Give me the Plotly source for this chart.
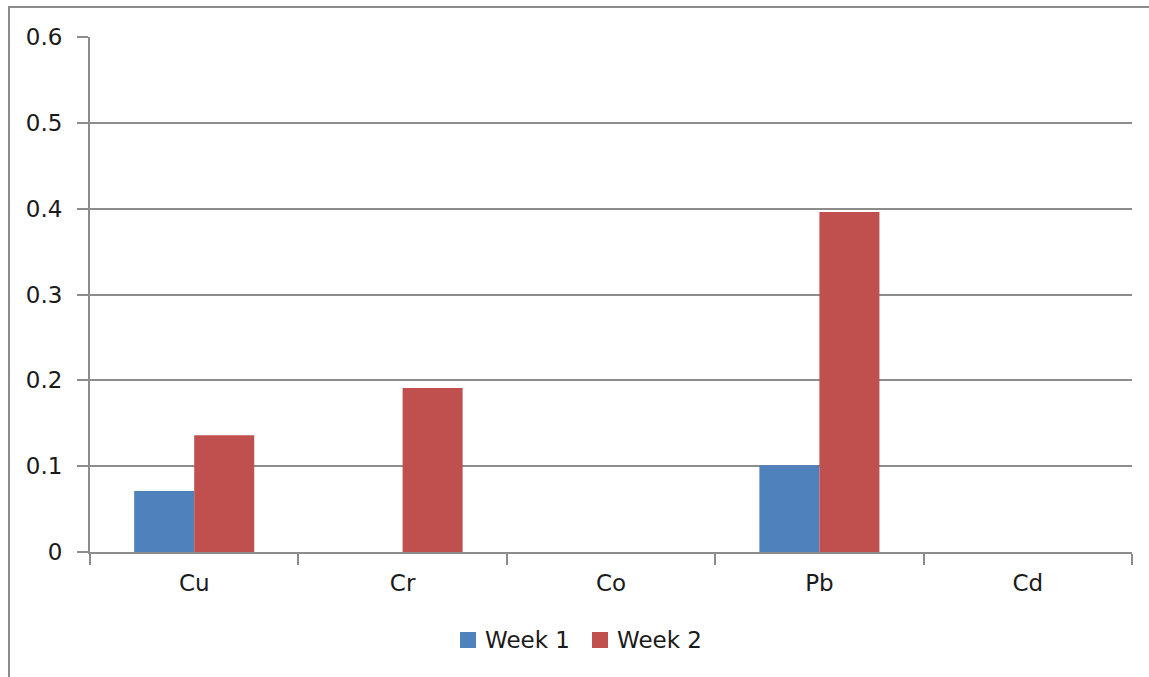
import plotly.graph_objects as go

metals = ["Cu", "Cr", "Co", "Pb", "Cd"]
week1 = [0.071, 0, 0, 0.101, 0]
week2 = [0.136, 0.191, 0, 0.396, 0]
series_names = ["Week 1", "Week 2"]
series_colors = ["#4F81BD", "#C0504D"]
y_ticks = [0, 0.1, 0.2, 0.3, 0.4, 0.5, 0.6]
y_labels = ["0", "0.1", "0.2", "0.3", "0.4", "0.5", "0.6"]

W, H = 1149, 677
L, R, T, B = 90, 17, 37, 125
pw, ph = W - L - R, H - T - B


def px_x(p):
    return (p - L) / pw


def px_y(p):
    return (H - B - p) / ph


grey = "#8c8c8c"
font = dict(family="DejaVu Sans", size=23, color="#1a1a1a")

fig = go.Figure()
for name, vals, col in zip(series_names, [week1, week2], series_colors):
    fig.add_trace(go.Bar(name=name, x=metals, y=vals,
                         marker=dict(color=col, line=dict(width=0))))

# legend drawn as coloured squares with text beside them
legend_shapes = []
legend_notes = []
legend_x = [460, 592]
for lx, name, col in zip(legend_x, series_names, series_colors):
    legend_shapes.append(dict(type="rect", xref="paper", yref="paper",
                              x0=px_x(lx), x1=px_x(lx + 16),
                              y0=px_y(648), y1=px_y(632),
                              line=dict(width=0), fillcolor=col))
    legend_notes.append(dict(xref="paper", yref="paper", x=px_x(lx + 23), y=px_y(640),
                             xanchor="left", yanchor="middle", text=name, showarrow=False,
                             font=dict(family="DejaVu Sans", size=23, color="#1a1a1a")))

frame = dict(type="rect", xref="paper", yref="paper",
             x0=px_x(9), x1=px_x(1200), y0=px_y(720), y1=px_y(7),
             line=dict(color=grey, width=2), fillcolor="rgba(0,0,0,0)", layer="above")

fig.update_layout(
    width=W, height=H,
    margin=dict(l=L, r=R, t=T, b=B),
    paper_bgcolor="white", plot_bgcolor="white",
    barmode="group", bargap=0.424, bargroupgap=0,
    font=font,
    showlegend=False,
    xaxis=dict(showgrid=False, showline=True, linecolor=grey, linewidth=2,
               ticks="outside", tickson="boundaries", ticklen=11, tickcolor=grey, tickwidth=2,
               ticklabelstandoff=9, tickfont=font),
    yaxis=dict(range=[0, 0.6], tickvals=y_ticks, ticktext=y_labels,
               showgrid=True, gridcolor=grey, gridwidth=2,
               showline=True, linecolor=grey, linewidth=2,
               ticks="outside", ticklen=11, tickcolor=grey, tickwidth=2,
               ticklabelstandoff=10, tickfont=font, zeroline=False),
    shapes=[frame] + legend_shapes,
    annotations=legend_notes,
)

fig.write_html("out.html")
